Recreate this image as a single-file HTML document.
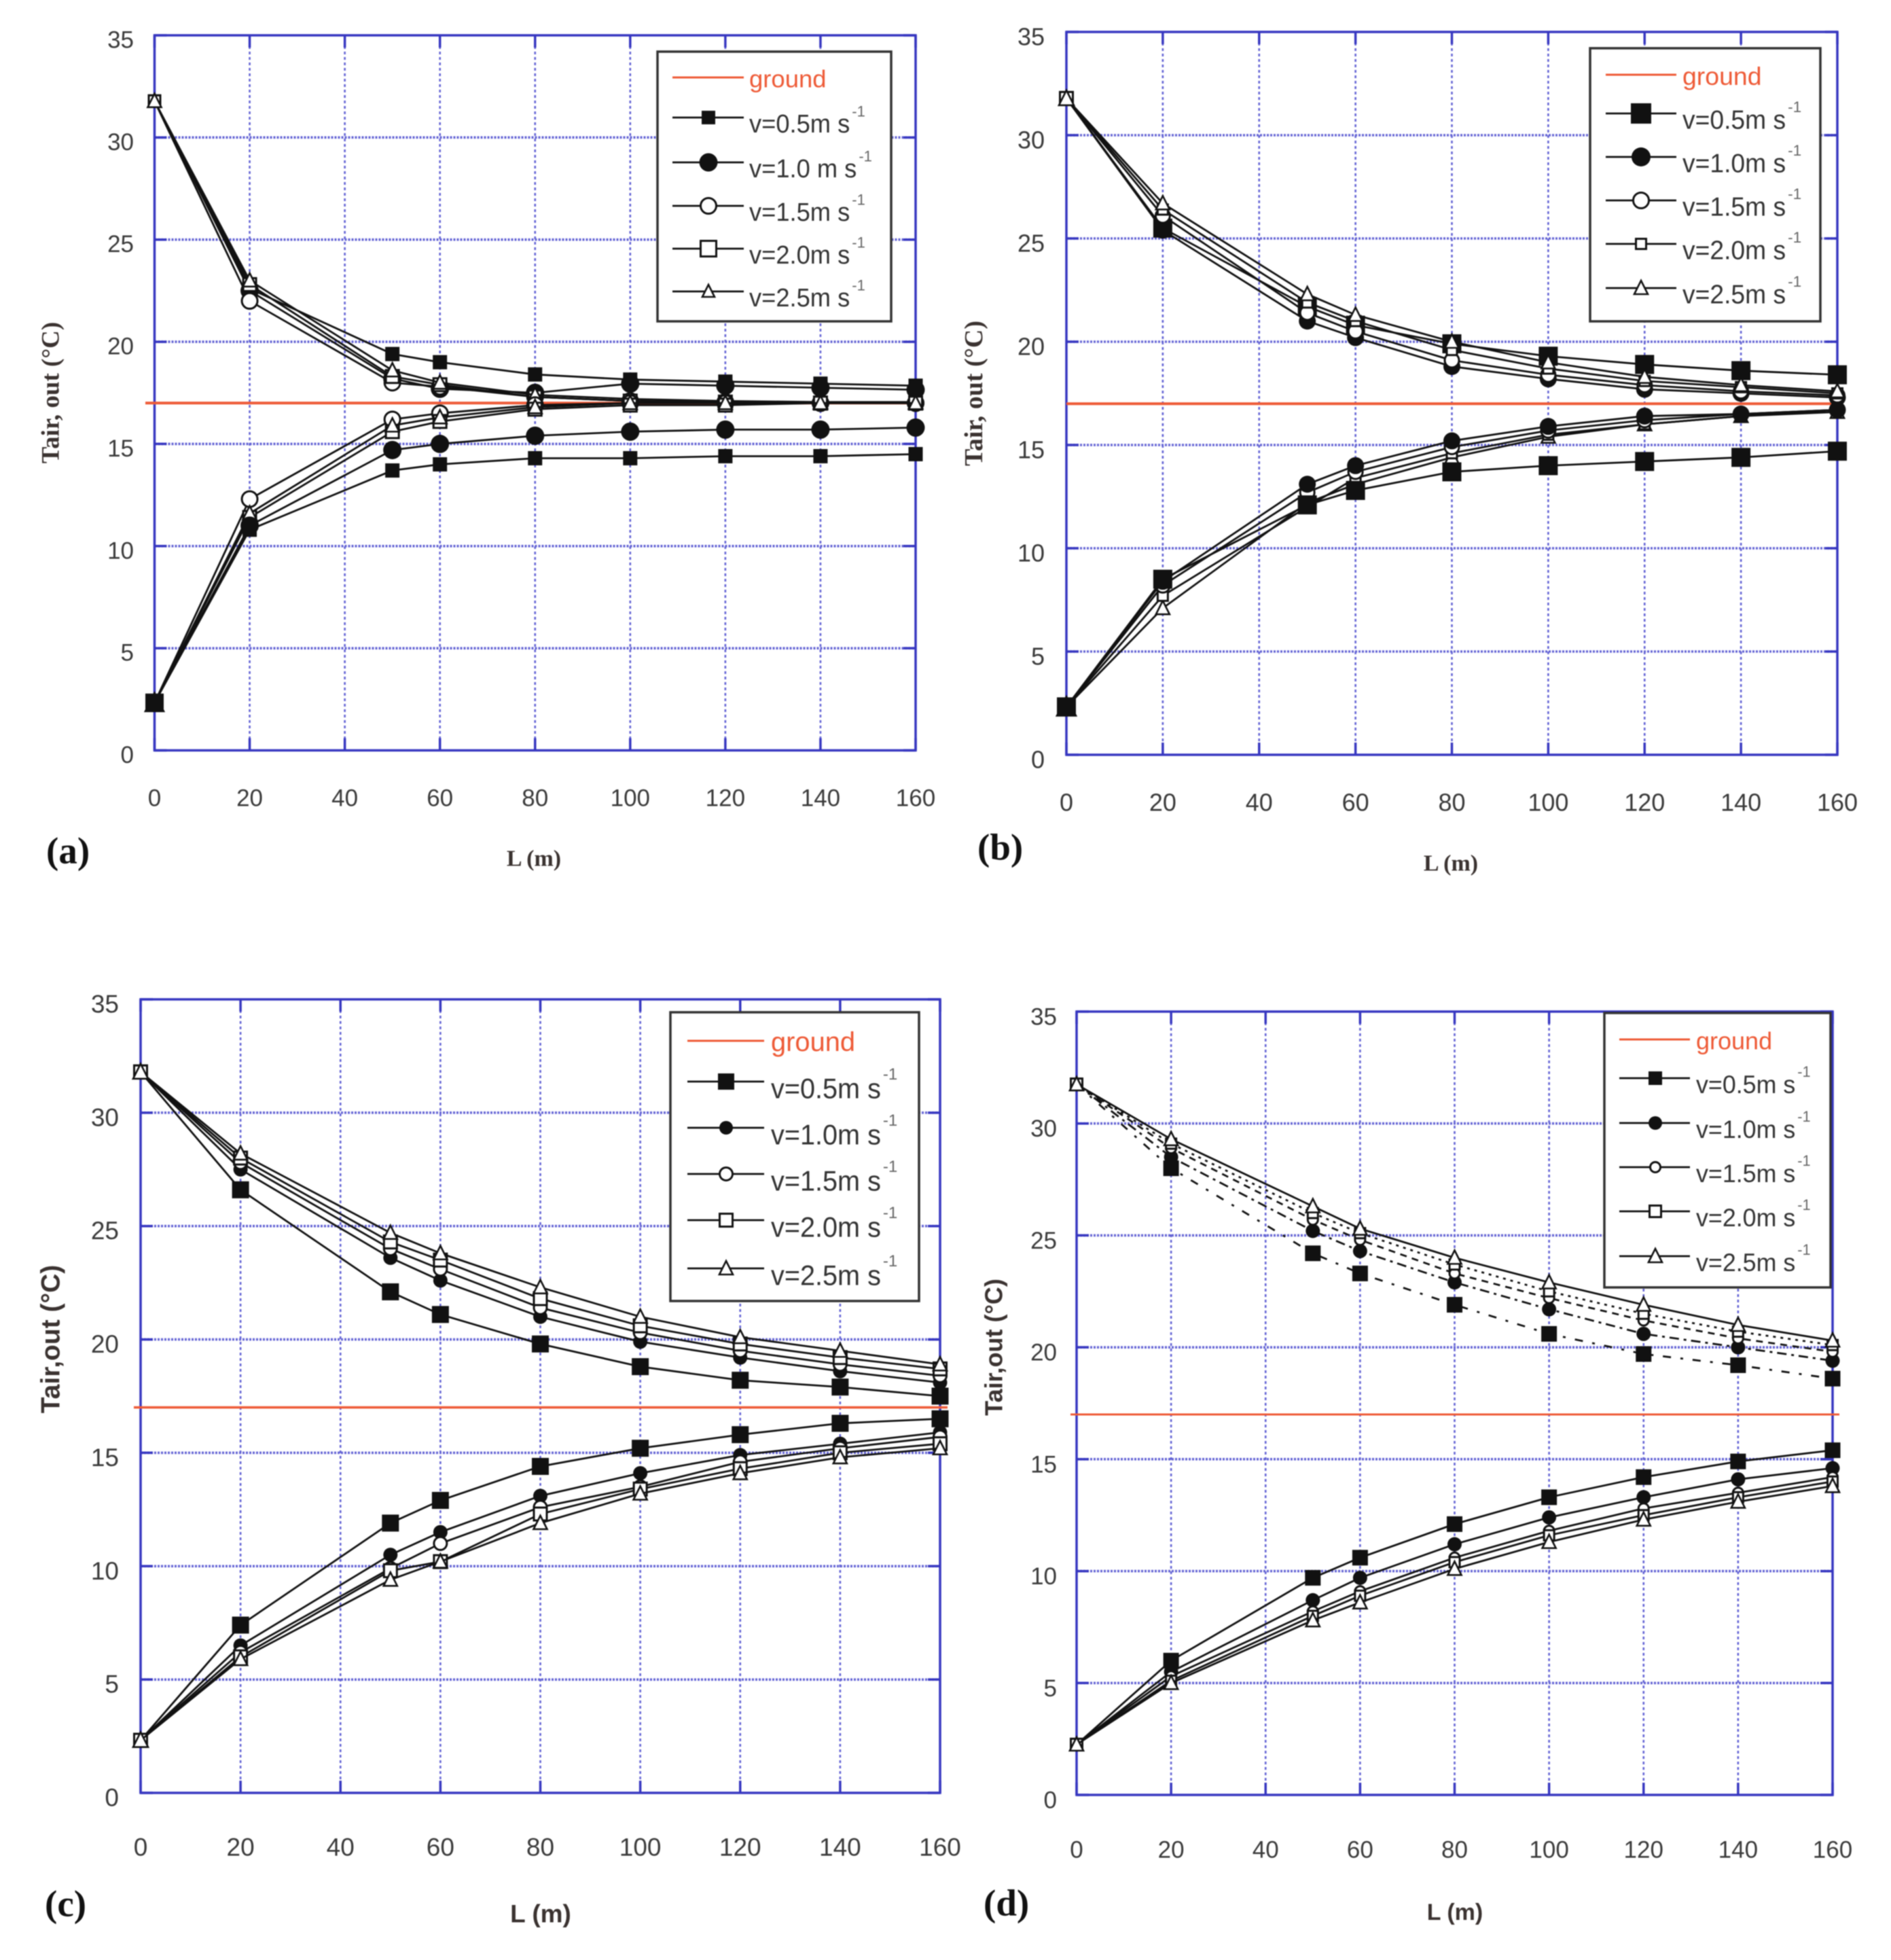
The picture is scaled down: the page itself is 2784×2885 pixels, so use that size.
<!DOCTYPE html>
<html lang="en">
<head>
<meta charset="utf-8">
<title>Tair,out versus L for four cases</title>
<style>
html,body{margin:0;padding:0;background:#fff;}
#figure{display:block;width:2784px;height:2885px;background:#fff;filter:blur(0.8px);}
text{font-family:"Liberation Sans",sans-serif;}
</style>
</head>
<body>
<svg id="figure" xmlns="http://www.w3.org/2000/svg" width="2784" height="2885" viewBox="0 0 2784 2885"></svg>
<script>
/* ---------- shared data ---------- */
const categories = [0, 20, 50, 60, 80, 100, 120, 140, 160];
const xTickLabels = [0, 20, 40, 60, 80, 100, 120, 140, 160];
const yTickLabels = [0, 5, 10, 15, 20, 25, 30, 35];
const groundValue = [17];
const velocityNames = ['v05', 'v10', 'v15', 'v20', 'v25'];
const legendLabels = ['v=0.5m s', 'v=1.0m s', 'v=1.5m s', 'v=2.0m s', 'v=2.5m s'];
const legendLabelsA = ['v=0.5m s', 'v=1.0 m s', 'v=1.5m s', 'v=2.0m s', 'v=2.5m s'];

/* ---------- panel (a) ---------- */
const aUpper05 = [31.78, 22.6, 19.4, 19.0, 18.4, 18.15, 18.05, 17.95, 17.85];
const aUpper10 = [31.78, 22.5, 18.2, 17.7, 17.5, 17.95, 17.85, 17.75, 17.65];
const aUpper15 = [31.78, 22.0, 18.0, 17.8, 17.3, 17.1, 17.05, 17.0, 17.0];
const aUpper20 = [31.78, 22.8, 18.3, 17.9, 17.3, 17.1, 17.05, 17.0, 17.0];
const aUpper25 = [31.78, 23.0, 18.6, 18.0, 17.4, 17.2, 17.1, 17.05, 17.05];
const aLower05 = [2.33, 10.8, 13.7, 14.0, 14.3, 14.3, 14.4, 14.4, 14.5];
const aLower10 = [2.33, 11.0, 14.7, 15.0, 15.4, 15.6, 15.7, 15.7, 15.8];
const aLower15 = [2.33, 12.3, 16.2, 16.5, 16.9, 17.0, 17.0, 17.0, 17.0];
const aLower20 = [2.33, 11.4, 15.6, 16.1, 16.7, 16.9, 16.9, 17.0, 17.0];
const aLower25 = [2.33, 11.6, 15.9, 16.3, 16.8, 17.0, 17.0, 17.0, 17.0];

/* ---------- panel (b) ---------- */
const bUpper05 = [31.78, 25.5, 21.7, 20.8, 19.9, 19.3, 18.9, 18.6, 18.4];
const bUpper10 = [31.78, 25.4, 21.0, 20.2, 18.8, 18.2, 17.7, 17.5, 17.3];
const bUpper15 = [31.78, 26.1, 21.4, 20.5, 19.1, 18.4, 17.9, 17.6, 17.4];
const bUpper20 = [31.78, 26.4, 21.9, 21.0, 19.6, 18.7, 18.1, 17.8, 17.5];
const bUpper25 = [31.78, 26.7, 22.3, 21.3, 20.0, 19.0, 18.3, 17.9, 17.6];
const bLower05 = [2.32, 8.5, 12.1, 12.8, 13.7, 14.0, 14.2, 14.4, 14.7];
const bLower10 = [2.32, 8.4, 13.1, 14.0, 15.2, 15.9, 16.4, 16.5, 16.7];
const bLower15 = [2.32, 8.2, 12.7, 13.7, 14.9, 15.7, 16.2, 16.5, 16.7];
const bLower20 = [2.32, 7.7, 12.0, 13.4, 14.6, 15.5, 16.0, 16.4, 16.7];
const bLower25 = [2.32, 7.1, 12.2, 13.1, 14.4, 15.4, 16.0, 16.4, 16.6];

/* ---------- panel (c) ---------- */
const cUpper05 = [31.8, 26.6, 22.1, 21.1, 19.8, 18.8, 18.2, 17.9, 17.5];
const cUpper10 = [31.8, 27.5, 23.6, 22.6, 21.0, 19.9, 19.2, 18.6, 18.1];
const cUpper15 = [31.8, 27.8, 24.0, 23.1, 21.4, 20.3, 19.5, 18.9, 18.4];
const cUpper20 = [31.8, 28.0, 24.3, 23.5, 21.8, 20.6, 19.8, 19.2, 18.7];
const cUpper25 = [31.8, 28.2, 24.7, 23.8, 22.3, 21.0, 20.1, 19.5, 18.9];
const cLower05 = [2.32, 7.4, 11.9, 12.9, 14.4, 15.2, 15.8, 16.3, 16.5];
const cLower10 = [2.32, 6.5, 10.5, 11.5, 13.1, 14.1, 14.9, 15.4, 15.9];
const cLower15 = [2.32, 6.2, 9.9, 11.0, 12.6, 13.5, 14.6, 15.2, 15.7];
const cLower20 = [2.32, 6.0, 9.8, 10.2, 12.3, 13.4, 14.3, 15.0, 15.4];
const cLower25 = [2.32, 5.9, 9.4, 10.2, 11.9, 13.2, 14.1, 14.8, 15.2];

/* ---------- panel (d) ---------- */
const dUpper05 = [31.75, 28.0, 24.2, 23.3, 21.9, 20.6, 19.7, 19.2, 18.6];
const dUpper10 = [31.75, 28.5, 25.2, 24.3, 22.9, 21.7, 20.6, 20.0, 19.4];
const dUpper15 = [31.75, 28.9, 25.7, 24.8, 23.3, 22.2, 21.2, 20.4, 19.8];
const dUpper20 = [31.75, 29.1, 26.0, 25.1, 23.7, 22.5, 21.5, 20.7, 20.1];
const dUpper25 = [31.75, 29.3, 26.3, 25.3, 24.0, 22.9, 21.9, 21.0, 20.3];
const dLower05 = [2.25, 6.0, 9.7, 10.6, 12.1, 13.3, 14.2, 14.9, 15.4];
const dLower10 = [2.25, 5.5, 8.7, 9.7, 11.2, 12.4, 13.3, 14.1, 14.6];
const dLower15 = [2.25, 5.3, 8.2, 9.1, 10.6, 11.8, 12.8, 13.5, 14.2];
const dLower20 = [2.25, 5.1, 8.0, 8.9, 10.4, 11.6, 12.5, 13.3, 14.0];
const dLower25 = [2.25, 5.0, 7.8, 8.6, 10.1, 11.3, 12.3, 13.1, 13.8];

/* ---------- layout (not data) ---------- */
const markerKinds = ['square', 'disc', 'ring', 'box', 'triangle'];
const panels = [
  {id:'a', label:'(a)', upper:[aUpper05,aUpper10,aUpper15,aUpper20,aUpper25], lower:[aLower05,aLower10,aLower15,aLower20,aLower25], legendText:legendLabelsA, lowerOrder:[2,3,4,1,0],
   box:{l:227.5,r:1348,t:52,b:1104.5}, ground:{x1:214,x2:1350,tw:4}, tick:{size:35,right:197,dy:7,xy:1175},
   sizes:[21,27,26,22,20], legendSizes:[20,27,26,26,18], startUpper:20, startLower:27,
   legend:{l:968,r:1312,t:76,b:473,lx1:990,lx2:1095,mx:1043,tx:1103,gy:114,rows:[173,239,303,366,429],fs:38,dy:10},
   ytitle:{text:'Tair, out (°C)',x:75,y:578,fs:37,serif:true}, xtitle:{text:'L (m)',x:786,y:1264,fs:34,serif:true}, tag:{x:68,y:1252,fs:55}},
  {id:'b', label:'(b)', upper:[bUpper05,bUpper10,bUpper15,bUpper20,bUpper25], lower:[bLower05,bLower10,bLower15,bLower20,bLower25], legendText:legendLabels, lowerOrder:[4,3,2,1,0],
   box:{l:1570,r:2705,t:47,b:1111}, ground:{x1:1570,x2:2705,tw:4}, tick:{size:36,right:1538,dy:7,xy:1181},
   sizes:[28,25,24,18,20], legendSizes:[30,28,26,18,20], startUpper:22, startLower:28,
   legend:{l:2341,r:2680,t:71,b:473,lx1:2364,lx2:2468,mx:2416,tx:2477,gy:110,rows:[167,231,295,359,424],fs:39,dy:10},
   ytitle:{text:'Tair, out (°C)',x:1434,y:579,fs:38,serif:true}, xtitle:{text:'L (m)',x:2136,y:1271,fs:34,serif:true}, tag:{x:1439,y:1247,fs:55}},
  {id:'c', label:'(c)', upper:[cUpper05,cUpper10,cUpper15,cUpper20,cUpper25], lower:[cLower05,cLower10,cLower15,cLower20,cLower25], legendText:legendLabels, lowerOrder:[0,1,2,3,4],
   box:{l:207,r:1384,t:1471,b:2639}, ground:{x1:197,x2:1395,tw:3.5}, tick:{size:37,right:175,dy:7,xy:2719},
   sizes:[25,21,22,22,20], legendSizes:[24,20,22,22,20], startUpper:22, startLower:22,
   legend:{l:987,r:1353,t:1490,b:1915,lx1:1012,lx2:1125,mx:1069,tx:1135,gy:1532,rows:[1592,1660,1728,1796,1867],fs:41.5,dy:10},
   ytitle:{text:'Tair,out (°C)',x:75,y:1971,fs:39,serif:false}, xtitle:{text:'L (m)',x:796,y:2817,fs:37,serif:false}, tag:{x:66,y:2802,fs:55}},
  {id:'d', label:'(d)', upper:[dUpper05,dUpper10,dUpper15,dUpper20,dUpper25], lower:[dLower05,dLower10,dLower15,dLower20,dLower25], legendText:legendLabels, lowerOrder:[0,1,2,3,4],
   box:{l:1585,r:2698,t:1489,b:2642}, ground:{x1:1576,x2:2708,tw:3}, tick:{size:35,right:1556,dy:8,xy:2723},
   sizes:[23,21,18,18,20], legendSizes:[20,20,18,20,20], startUpper:20, startLower:20,
   upperDash:['12 14 4 14','14 7 4 7','10 8','4 7',''],
   legend:{l:2362,r:2695,t:1491,b:1895,lx1:2384,lx2:2488,mx:2437,tx:2497,gy:1530,rows:[1587,1653,1718,1783,1849],fs:37.5,dy:9},
   ytitle:{text:'Tair,out (°C)',x:1463,y:1983,fs:36,serif:false}, xtitle:{text:'L (m)',x:2142,y:2815,fs:34,serif:false}, tag:{x:1448,y:2801,fs:55}}
];

const NS = 'http://www.w3.org/2000/svg';
const root = document.getElementById('figure');
const BLUE = '#3636c0', GRID = '#6262d4', RED = '#ee5a36', INK = '#111', TXT = '#3a3a3a';
const LEGEND_SQUEEZE = 0.955;

function mk(tag, parent, attrs){
  const el = document.createElementNS(NS, tag);
  for (const k in attrs) el.setAttribute(k, attrs[k]);
  parent.appendChild(el);
  return el;
}

function drawMarker(parent, kind, cx, cy, size){
  const r = size / 2;
  let el;
  if (kind === 'square') {
    el = mk('rect', parent, {x:cx-r, y:cy-r, width:size, height:size, fill:INK});
  } else if (kind === 'disc') {
    el = mk('circle', parent, {cx:cx, cy:cy, r:r, fill:INK});
  } else if (kind === 'ring') {
    el = mk('circle', parent, {cx:cx, cy:cy, r:r-1.5, fill:'#fff', stroke:INK, 'stroke-width':3});
  } else if (kind === 'box') {
    el = mk('rect', parent, {x:cx-r+1.5, y:cy-r+1.5, width:size-3, height:size-3, fill:'#fff', stroke:INK, 'stroke-width':3});
  } else {
    el = mk('polygon', parent, {points:(cx)+','+(cy-r-1)+' '+(cx+r)+','+(cy+r-1)+' '+(cx-r)+','+(cy+r-1), fill:'#fff', stroke:INK, 'stroke-width':2.6});
  }
  return el;
}

function drawSeries(group, p, values, idx, family, sx, sy, dash){
  const g = mk('g', group, {});
  
  
  const pts = categories.map(function(c, i){ return sx(c) + ',' + sy(values[i]); }).join(' ');
  const line = mk('polyline', g, {points:pts, fill:'none', stroke:INK, 'stroke-width':2.8});
  if (dash) line.setAttribute('stroke-dasharray', dash);
  
  
  categories.forEach(function(c, i){
    const size = i === 0 ? (family === 'upper' ? p.startUpper : p.startLower) : p.sizes[idx];
    const m = drawMarker(g, markerKinds[idx], sx(c), sy(values[i]), size);
    
    
  });
}

panels.forEach(function(p){
  const b = p.box;
  const sx = function(v){ return b.l + (v / 160) * (b.r - b.l); };
  const sy = function(v){ return b.b - (v / 35) * (b.b - b.t); };

  const g = mk('g', root, {});
  
  

  /* grid */
  const grid = mk('g', g, {});
  
  
  xTickLabels.forEach(function(v){
    if (v > 0 && v < 160) {
      const l = mk('line', grid, {x1:sx(v), x2:sx(v), y1:b.t, y2:b.b, stroke:GRID, 'stroke-width':2.6, 'stroke-dasharray':'4 4'});
      
      
    }
    const t1 = mk('line', grid, {x1:sx(v), x2:sx(v), y1:b.t, y2:b.t+18, stroke:BLUE, 'stroke-width':3.5});
    
    
    const t2 = mk('line', grid, {x1:sx(v), x2:sx(v), y1:b.b-18, y2:b.b, stroke:BLUE, 'stroke-width':3.5});
    
    
  });
  yTickLabels.forEach(function(v){
    if (v > 0 && v < 35) {
      const l = mk('line', grid, {x1:b.l, x2:b.r, y1:sy(v), y2:sy(v), stroke:GRID, 'stroke-width':3.6, 'stroke-dasharray':'3 2'});
      
      
    }
    const t1 = mk('line', grid, {x1:b.l, x2:b.l+18, y1:sy(v), y2:sy(v), stroke:BLUE, 'stroke-width':3.5});
    
    
    const t2 = mk('line', grid, {x1:b.r-18, x2:b.r, y1:sy(v), y2:sy(v), stroke:BLUE, 'stroke-width':3.5});
    
    
  });

  /* frame */
  const frame = mk('rect', g, {x:b.l, y:b.t, width:b.r-b.l, height:b.b-b.t, fill:'none', stroke:BLUE, 'stroke-width':3.5});
  
  

  /* ground line */
  const gl = mk('line', g, {x1:p.ground.x1, x2:p.ground.x2, y1:sy(groundValue[0]), y2:sy(groundValue[0]), stroke:RED, 'stroke-width':p.ground.tw});
  
  

  /* series */
  const ser = mk('g', g, {});
  
  
  p.upper.forEach(function(values, i){
    drawSeries(ser, p, values, i, 'upper', sx, sy, p.upperDash ? p.upperDash[i] : '');
  });
  p.lowerOrder.forEach(function(i){
    drawSeries(ser, p, p.lower[i], i, 'lower', sx, sy, '');
  });

  /* tick labels */
  xTickLabels.forEach(function(v){
    const t = mk('text', g, {x:sx(v), y:p.tick.xy, 'font-size':p.tick.size, fill:TXT, 'text-anchor':'middle', 'dominant-baseline':'central'});
    t.textContent = v;
    
    
  });
  yTickLabels.forEach(function(v){
    const t = mk('text', g, {x:p.tick.right, y:sy(v)+p.tick.dy, 'font-size':p.tick.size, fill:TXT, 'text-anchor':'end', 'dominant-baseline':'central'});
    t.textContent = v;
    
    
  });

  /* axis titles */
  const fam = function(serif){ return serif ? '"Liberation Serif",serif' : '"Liberation Sans",sans-serif'; };
  const yt = mk('text', g, {x:p.ytitle.x, y:p.ytitle.y, 'font-size':p.ytitle.fs, 'font-weight':'bold', fill:'#3a3230', 'text-anchor':'middle', 'dominant-baseline':'central', transform:'rotate(-90 '+p.ytitle.x+' '+p.ytitle.y+')', style:'font-family:'+fam(p.ytitle.serif)});
  yt.textContent = p.ytitle.text;
  
  
  const xt = mk('text', g, {x:p.xtitle.x, y:p.xtitle.y, 'font-size':p.xtitle.fs, 'font-weight':'bold', fill:'#3a3230', 'text-anchor':'middle', 'dominant-baseline':'central', style:'font-family:'+fam(p.xtitle.serif)});
  xt.textContent = p.xtitle.text;
  
  
  const tag = mk('text', g, {x:p.tag.x, y:p.tag.y, 'font-size':p.tag.fs, 'font-weight':'bold', fill:'#111', 'dominant-baseline':'central', style:'font-family:"Liberation Serif",serif'});
  tag.textContent = p.label;
  
  

  /* legend */
  const L = p.legend;
  const lg = mk('g', g, {});
  
  
  const lb = mk('rect', lg, {x:L.l, y:L.t, width:L.r-L.l, height:L.b-L.t, fill:'#fff', stroke:'#333', 'stroke-width':3.5});
  
  
  const gs = mk('line', lg, {x1:L.lx1, x2:L.lx2, y1:L.gy, y2:L.gy, stroke:RED, 'stroke-width':3});
  
  
  const gt = mk('text', lg, {x:L.tx, y:L.gy+2, 'font-size':L.fs*0.96, fill:RED, 'dominant-baseline':'central'});
  gt.textContent = 'ground';
  
  
  L.rows.forEach(function(ry, i){
    const e = mk('g', lg, {});
    
    
    mk('line', e, {x1:L.lx1, x2:L.lx2, y1:ry, y2:ry, stroke:INK, 'stroke-width':2.8});
    drawMarker(e, markerKinds[i], L.mx, ry, p.legendSizes[i]);
    const t = mk('text', e, {x:L.tx, y:ry+L.dy, 'font-size':L.fs, fill:'#333', 'dominant-baseline':'central'});
    t.textContent = p.legendText[i];
    const len = t.getComputedTextLength() * LEGEND_SQUEEZE;
    t.setAttribute('textLength', len);
    t.setAttribute('lengthAdjust', 'spacingAndGlyphs');
    const sup = mk('text', e, {x:L.tx+len+3, y:ry+L.dy-L.fs*0.5, 'font-size':L.fs*0.58, fill:'#666', 'dominant-baseline':'central'});
    sup.textContent = '-1';
  });
});
</script>
</body>
</html>
